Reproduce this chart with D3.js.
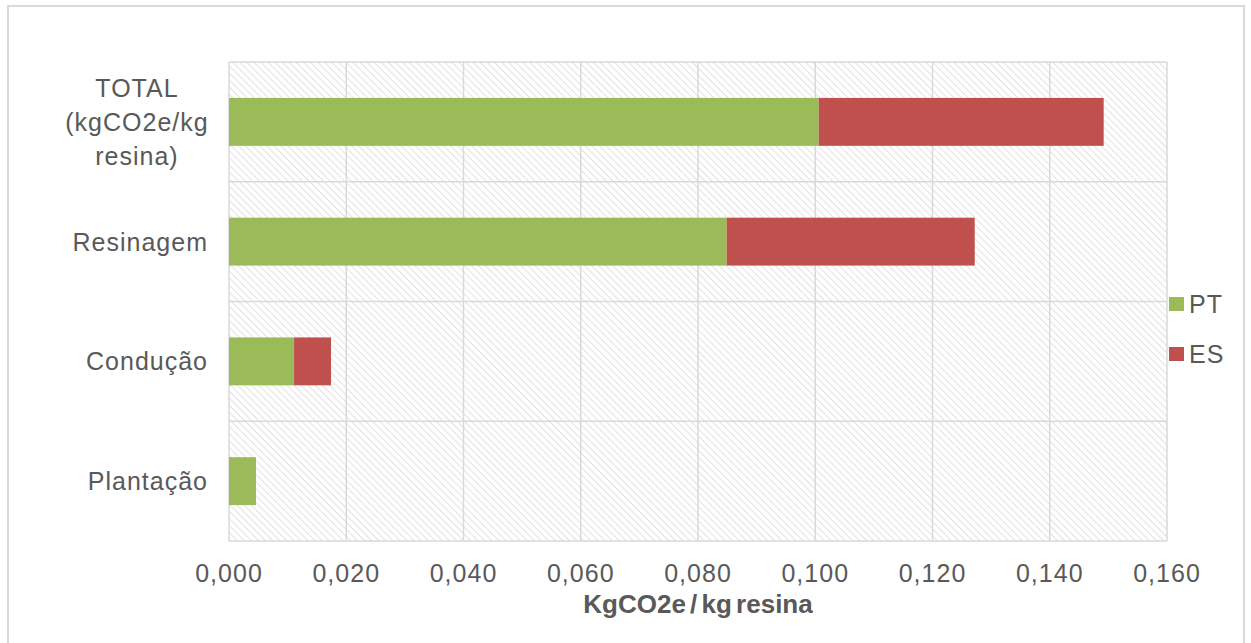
<!DOCTYPE html>
<html>
<head>
<meta charset="utf-8">
<script src="https://cdn.jsdelivr.net/npm/d3@7/dist/d3.min.js"></script>
<style>
  html, body { margin: 0; padding: 0; background: #fff; }
  svg { display: block; }
  text { font-family: "Liberation Sans", Arial, sans-serif; fill: #595959; }
</style>
</head>
<body>
<svg id="chart" width="1251" height="643"></svg>
<script>
// Emissions per stage, kgCO2e per kg of resin
const categories = ["TOTAL\n(kgCO2e/kg\nresina)", "Resinagem", "Condução", "Plantação"];
const seriesNames = ["PT", "ES"];
const ptValues = [0.1006, 0.0849, 0.0111, 0.0046];
const esValues = [0.0486, 0.0423, 0.0063, 0.0];
const xTicks = [0, 0.02, 0.04, 0.06, 0.08, 0.10, 0.12, 0.14, 0.16];
const colors = { PT: "#9bbb59", ES: "#c0504d" };

const svg = d3.select("#chart");
const plot = { left: 229, right: 1167, top: 62, bottom: 541 };
const fs = 25;

// outer frame
svg.append("rect")
  .attr("x", 8).attr("y", 6).attr("width", 1236).attr("height", 660)
  .attr("fill", "#fff").attr("stroke", "#d9d9d9").attr("stroke-width", 2);

// diagonal hatch for the plot background
const defs = svg.append("defs");
const pat = defs.append("pattern")
  .attr("id", "hatch").attr("patternUnits", "userSpaceOnUse")
  .attr("width", 5).attr("height", 5)
  .attr("patternTransform", "rotate(-45)");
pat.append("rect").attr("width", 5).attr("height", 5).attr("fill", "#ffffff");
pat.append("line").attr("x1", 0).attr("y1", 0).attr("x2", 0).attr("y2", 5)
  .attr("stroke", "#d9d9d9").attr("stroke-width", 1.5);

const x = d3.scaleLinear().domain([0, 0.16]).range([plot.left, plot.right]);
const y = d3.scaleBand().domain(categories).range([plot.top, plot.bottom])
  .paddingInner(0).paddingOuter(0);
const barPad = 0.3; // fraction of band left empty above and below bar

svg.append("rect")
  .attr("x", plot.left).attr("y", plot.top)
  .attr("width", plot.right - plot.left).attr("height", plot.bottom - plot.top)
  .attr("fill", "url(#hatch)");

// vertical gridlines
svg.append("g").selectAll("line").data(xTicks).join("line")
  .attr("x1", d => x(d)).attr("x2", d => x(d))
  .attr("y1", plot.top).attr("y2", plot.bottom)
  .attr("stroke", "#d9d9d9").attr("stroke-width", 1.5);

// horizontal lines at band edges
const edges = categories.map(c => y(c)).concat([plot.bottom]);
svg.append("g").selectAll("line").data(edges).join("line")
  .attr("x1", plot.left).attr("x2", plot.right)
  .attr("y1", d => d).attr("y2", d => d)
  .attr("stroke", "#d9d9d9").attr("stroke-width", 1.5);

// stacked bars
const rows = categories.map((c, i) => ({ cat: c, PT: ptValues[i], ES: esValues[i] }));
const stacked = d3.stack().keys(seriesNames)(rows);
const bh = y.bandwidth() * (1 - 2 * barPad);
svg.append("g").selectAll("g").data(stacked).join("g")
  .attr("fill", d => colors[d.key])
  .selectAll("rect").data(d => d.filter(p => p[1] > p[0])).join("rect")
  .attr("x", d => x(d[0]))
  .attr("width", d => x(d[1]) - x(d[0]))
  .attr("y", d => y(d.data.cat) + y.bandwidth() * barPad)
  .attr("height", bh);

// category labels
const catG = svg.append("g");
categories.forEach(c => {
  const lines = c.split("\n");
  const cy = y(c) + y.bandwidth() / 2;
  const lh = 34;
  const multi = lines.length > 1;
  const t = catG.append("text")
    .attr("font-size", fs)
    .attr("letter-spacing", 1)
    .attr("text-anchor", multi ? "middle" : "end");
  lines.forEach((ln, i) => {
    t.append("tspan")
      .attr("x", multi ? 137 : 208)
      .attr("y", cy + (i - (lines.length - 1) / 2) * lh + 9)
      .text(ln);
  });
});

// x tick labels
const fmt = d => d3.format(".3f")(d).replace(".", ",");
svg.append("g").selectAll("text").data(xTicks).join("text")
  .attr("x", d => x(d)).attr("y", 582)
  .attr("text-anchor", "middle").attr("font-size", fs)
  .attr("letter-spacing", 1)
  .text(fmt);

// axis title
svg.append("text")
  .attr("x", (plot.left + plot.right) / 2).attr("y", 613)
  .attr("text-anchor", "middle").attr("font-size", 26).attr("font-weight", "bold")
  .attr("word-spacing", -3)
  .text("KgCO2e / kg resina");

// legend
const lg = svg.append("g");
seriesNames.forEach((s, i) => {
  const ly = 304 + i * 50;
  lg.append("rect").attr("x", 1169).attr("y", ly - 7).attr("width", 15).attr("height", 14)
    .attr("fill", colors[s]);
  lg.append("text").attr("x", 1189).attr("y", ly + 9)
    .attr("font-size", fs).attr("letter-spacing", 1).text(s);
});
</script>
</body>
</html>
